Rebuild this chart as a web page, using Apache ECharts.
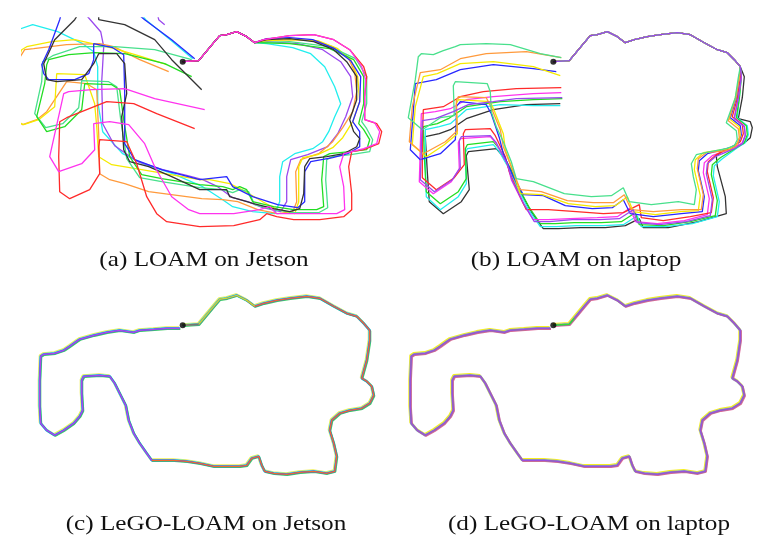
<!DOCTYPE html>
<html>
<head>
<meta charset="utf-8">
<script src="https://cdn.jsdelivr.net/npm/echarts@6.0.0/dist/echarts.min.js"></script>
<style>html,body{margin:0;background:#fff}#main{width:766px;height:541px}</style>
</head>
<body>
<div id="main"></div>
<script>
// trajectories, in map units relative to the start point (x right, y up)
var startPoint=[[0,0]];
var startLeg=[[0,0],[16,1],[21,7],[31,19],[37,26],[44,27],[54,30],[64,25],[72,19]];
var rightTop=[[81,22],[94,25],[107,27],[124,29],[137,27],[151,19],[164,12],[174,9],[181,2],[187,-5]];
var legoSouth=[[187,-15],[184,-35],[179,-53],[184,-56],[189,-61],[191,-70],[187,-78],[179,-83],[167,-85],[157,-88],[149,-95],[147,-105],[151,-118],[154,-131],[152,-146],[144,-148],[131,-146],[117,-147],[104,-149],[91,-148],[82,-146],[79,-140],[76,-131],[69,-133],[64,-140],[57,-141],[44,-141],[31,-141],[17,-138],[4,-136],[-9,-135],[-23,-135],[-31,-135]];
var legoWest=[[-31,-135],[-36,-128],[-43,-118],[-49,-108],[-54,-95],[-57,-80],[-63,-68],[-68,-58],[-73,-51],[-83,-50],[-99,-51],[-101,-55],[-101,-68],[-100,-85],[-103,-91],[-109,-98],[-119,-105],[-128,-110],[-136,-105],[-142,-98],[-143,-81],[-143,-55],[-142,-31],[-139,-29],[-128,-28],[-119,-25],[-113,-21],[-106,-16],[-103,-14],[-89,-10],[-76,-7],[-63,-5],[-49,-7],[-43,-5],[-29,-4],[-16,-3],[-3,-3]];

// (a) LOAM on Jetson, one array per run (after the start leg)
var redA=[[81,22],[107,26],[131,27],[151,22],[167,12],[181,-5],[184,-15],[182,-35],[182,-58],[194,-62],[199,-70],[196,-82],[181,-88],[169,-90],[166,-105],[169,-132],[169,-148],[161,-155],[137,-158],[111,-158],[94,-155],[84,-152],[77,-158],[51,-164],[17,-165],[-16,-160],[-26,-152],[-36,-135],[-46,-102],[-56,-80],[-83,-78],[-84,-85],[-83,-112],[-93,-128],[-113,-137],[-123,-130],[-124,-95],[-123,-60],[-116,-56],[-96,-48],[-76,-40],[-49,-42],[-26,-52],[12,-67]];
var magentaA=[[81,22],[107,26],[131,27],[151,22],[167,12],[179,-5],[183,-18],[182,-35],[182,-58],[192,-61],[197,-70],[194,-82],[181,-87],[161,-92],[157,-105],[161,-125],[162,-148],[154,-152],[123,-152],[94,-152],[87,-145],[77,-148],[51,-152],[17,-152],[6,-148],[-11,-135],[-28,-105],[-38,-82],[-54,-63],[-73,-60],[-89,-62],[-88,-88],[-101,-102],[-124,-110],[-133,-95],[-119,-32],[-114,-30],[-91,-28],[-58,-27],[-28,-37],[22,-48]];
var orangeA=[[84,21],[110,22],[130,21],[150,15],[165,5],[172,-10],[174,-30],[170,-50],[160,-66],[150,-80],[136,-92],[118,-98],[113,-110],[114,-140],[110,-150],[95,-152],[75,-148],[55,-140],[40,-138],[19,-137],[-34,-130],[-58,-122],[-73,-118],[-83,-112],[-84,-72],[-86,-28],[-96,-22],[-116,-20],[-136,-50],[-146,-58],[-160,-63],[-172,-55],[-172,-10],[-158,12],[-149,13],[-116,17],[-83,18],[-69,15],[-43,2],[-14,-10]];
var yellowA=[[84,21],[110,22],[135,21],[155,13],[168,2],[175,-15],[177,-40],[170,-60],[160,-76],[150,-86],[135,-93],[120,-96],[116,-105],[116,-140],[112,-152],[95,-148],[80,-140],[63,-130],[47,-122],[27,-118],[17,-118],[-41,-108],[-71,-103],[-84,-95],[-86,-65],[-88,-42],[-98,-13],[-126,-12],[-128,-45],[-144,-58],[-159,-63],[-170,-58],[-172,-15],[-161,12],[-156,15],[-131,20],[-108,22],[-68,13],[-41,5],[-16,-3]];
var greenA=[[71,17],[107,18],[147,13],[171,2],[181,-15],[181,-42],[176,-62],[181,-68],[187,-78],[184,-88],[167,-90],[147,-92],[141,-95],[139,-118],[141,-145],[134,-148],[111,-148],[91,-145],[70,-140],[64,-128],[57,-125],[50,-128],[40,-125],[17,-123],[-21,-117],[-41,-113],[-53,-95],[-59,-58],[-63,-28],[-71,-23],[-98,-22],[-101,-48],[-118,-65],[-136,-70],[-146,-55],[-138,-22],[-136,-3],[-134,2],[-114,7],[-88,9],[-58,8],[-18,-2],[9,-15]];
var seafoamA=[[71,18],[107,20],[147,15],[173,3],[184,-15],[184,-42],[179,-60],[184,-67],[190,-78],[187,-90],[168,-93],[150,-95],[144,-98],[143,-118],[145,-146],[136,-151],[111,-151],[91,-148],[72,-143],[66,-130],[57,-128],[50,-131],[40,-128],[17,-126],[-21,-120],[-43,-116],[-56,-97],[-62,-58],[-66,-25],[-74,-20],[-101,-19],[-104,-46],[-120,-62],[-137,-66],[-148,-52],[-141,-20],[-140,0],[-130,6],[-103,15],[-68,15],[-28,12],[9,2]];
var blueA=[[84,23],[107,24],[130,22],[152,13],[168,1],[178,-15],[177,-40],[170,-60],[177,-70],[177,-85],[165,-92],[150,-96],[128,-100],[122,-110],[122,-140],[115,-146],[95,-143],[70,-135],[50,-125],[44,-115],[17,-118],[-21,-108],[-48,-98],[-58,-82],[-58,-32],[-59,7],[-70,14],[-89,18],[-89,2],[-94,-12],[-108,-18],[-134,-18],[-139,-12],[-141,-3],[-134,12],[-123,42],[-118,60],[-60,60],[-38,42],[-11,22],[12,3]];
var blackA=[[84,22],[107,23],[131,20],[151,12],[164,0],[174,-15],[174,-38],[167,-58],[171,-70],[177,-77],[174,-85],[161,-92],[144,-95],[127,-97],[122,-105],[121,-132],[117,-147],[107,-150],[91,-147],[71,-142],[47,-135],[44,-128],[17,-128],[-11,-115],[-34,-105],[-53,-100],[-59,-88],[-61,-55],[-56,-32],[-58,-2],[-66,8],[-84,8],[-89,-2],[-101,-18],[-126,-20],[-136,-18],[-139,-2],[-128,22],[-108,42],[-98,58],[-84,58],[-84,42],[-58,37],[-28,22],[-11,2],[19,-28]];
var cyanA=[[84,18],[110,14],[128,8],[142,-5],[152,-25],[158,-42],[152,-55],[146,-70],[140,-80],[130,-87],[112,-92],[100,-100],[97,-115],[97,-140],[92,-152],[70,-150],[50,-145],[40,-138],[20,-125],[-10,-112],[-40,-102],[-60,-92],[-80,-70],[-85,-40],[-85,-5],[-89,10],[-100,18],[-125,30],[-150,37],[-165,32],[-170,70],[-60,70],[-37,42],[-10,20],[10,3]];
var purpleA=[[84,20],[115,18],[140,12],[158,0],[168,-15],[170,-35],[163,-55],[155,-72],[145,-85],[125,-93],[108,-98],[104,-115],[104,-140],[98,-150],[80,-146],[65,-140],[50,-136],[35,-125],[20,-118],[5,-114],[-20,-108],[-45,-100],[-68,-84],[-80,-62],[-81,-20],[-79,15],[-82,30],[-95,45],[-100,70],[-30,70],[-24,42],[-18,37]];

// (b) LOAM on laptop, one array per run (after start leg and right top)
var seafoamB=[[185,-16],[182,-36],[173,-61],[183,-69],[184,-78],[181,-84],[173,-87],[157,-90],[143,-93],[138,-102],[140,-115],[143,-128],[141,-143],[125,-140],[98,-143],[76,-140],[70,-126],[58,-134],[38,-135],[11,-132],[-20,-120],[-37,-117],[-42,-100],[-50,-80],[-57,-65],[-62,-50],[-63,-30],[-66,-22],[-98,-20],[-100,-24],[-99,-54],[-113,-56],[-131,-68],[-145,-56],[-143,-45],[-138,-18],[-135,5],[-132,8],[-120,7],[-110,11],[-98,15],[-93,17],[-67,18],[-43,17],[-13,8],[8,4]];
var orangeB=[[186,-15],[183,-35],[175,-59],[185,-67],[186,-76],[183,-84],[175,-89],[153,-91],[145,-97],[144,-107],[147,-120],[150,-133],[148,-148],[128,-148],[100,-150],[78,-148],[71,-133],[60,-141],[40,-141],[14,-139],[-12,-130],[-33,-128],[-40,-110],[-50,-85],[-53,-68],[-62,-46],[-67,-36],[-95,-35],[-97,-39],[-96,-69],[-108,-80],[-130,-92],[-144,-80],[-141,-45],[-133,-11],[-113,-8],[-93,3],[-67,8],[-27,10],[8,4]];
var yellowB=[[186,-16],[182,-36],[176,-57],[186,-65],[187,-74],[184,-82],[176,-87],[150,-91],[142,-98],[141,-108],[144,-121],[147,-134],[145,-149],[127,-150],[102,-153],[80,-150],[74,-135],[62,-144],[42,-145],[15,-142],[-11,-133],[-33,-132],[-39,-113],[-48,-88],[-50,-72],[-59,-49],[-63,-40],[-95,-38],[-97,-42],[-96,-72],[-109,-83],[-127,-95],[-141,-83],[-138,-45],[-130,-15],[-116,-12],[-93,-2],[-60,0],[-20,-5],[7,-14]];
var blueB=[[186,-15],[183,-36],[177,-56],[187,-64],[188,-73],[185,-81],[177,-86],[154,-92],[146,-99],[145,-109],[148,-122],[151,-135],[149,-150],[128,-152],[100,-155],[77,-152],[70,-138],[59,-146],[39,-147],[12,-144],[-10,-134],[-30,-133],[-40,-115],[-50,-92],[-54,-76],[-62,-52],[-67,-43],[-93,-40],[-97,-45],[-97,-62],[-98,-78],[-113,-92],[-133,-98],[-143,-88],[-140,-50],[-138,-22],[-117,-18],[-93,-8],[-60,-3],[-20,-7],[3,-10]];
var redB=[[187,-16],[184,-37],[179,-55],[189,-63],[190,-72],[187,-80],[179,-85],[163,-93],[155,-100],[154,-110],[157,-123],[160,-136],[158,-151],[137,-155],[110,-159],[88,-156],[86,-143],[70,-151],[50,-152],[23,-150],[-5,-148],[-27,-148],[-34,-133],[-44,-110],[-48,-95],[-58,-74],[-63,-67],[-88,-68],[-90,-72],[-89,-103],[-99,-116],[-117,-128],[-131,-116],[-131,-80],[-130,-48],[-110,-45],[-93,-35],[-70,-30],[-37,-27],[8,-26]];
var magentaB=[[188,-16],[185,-37],[181,-56],[191,-64],[192,-73],[189,-81],[181,-86],[159,-94],[151,-101],[150,-111],[153,-124],[156,-137],[154,-153],[131,-159],[104,-162],[82,-160],[77,-146],[64,-155],[44,-156],[17,-157],[-5,-158],[-20,-158],[-30,-142],[-42,-118],[-46,-102],[-57,-82],[-63,-75],[-93,-77],[-95,-81],[-94,-107],[-102,-120],[-120,-132],[-134,-120],[-133,-85],[-132,-52],[-118,-50],[-103,-47],[-87,-38],[-60,-35],[-20,-32],[8,-31]];
var purpleB=[[188,-15],[185,-36],[181,-57],[191,-65],[192,-74],[189,-82],[181,-87],[162,-95],[154,-102],[153,-112],[156,-125],[159,-138],[157,-154],[133,-160],[106,-163],[84,-161],[80,-148],[66,-157],[46,-158],[19,-158],[-4,-160],[-19,-160],[-29,-143],[-41,-119],[-46,-102],[-57,-81],[-63,-74],[-92,-75],[-94,-79],[-93,-106],[-101,-118],[-119,-130],[-133,-118],[-132,-88],[-131,-59],[-118,-57],[-100,-50],[-85,-43],[-60,-40],[-37,-37],[9,-36]];
var greenB=[[188,-16],[186,-37],[183,-56],[193,-64],[194,-73],[191,-81],[183,-86],[167,-96],[159,-103],[158,-113],[161,-126],[164,-139],[162,-154],[137,-160],[110,-164],[86,-163],[82,-151],[68,-160],[48,-161],[21,-161],[2,-162],[-13,-162],[-24,-146],[-36,-123],[-42,-108],[-54,-87],[-60,-80],[-86,-83],[-88,-87],[-87,-117],[-95,-130],[-113,-142],[-127,-130],[-129,-95],[-130,-65],[-116,-62],[-105,-57],[-87,-45],[-53,-40],[-20,-38],[9,-37]];
var cyanB=[[188,-15],[186,-36],[184,-56],[194,-64],[195,-73],[192,-81],[184,-86],[169,-97],[161,-104],[160,-114],[163,-127],[166,-140],[164,-155],[139,-162],[112,-165],[88,-165],[84,-154],[70,-163],[50,-164],[23,-164],[3,-165],[-13,-165],[-24,-149],[-36,-126],[-42,-111],[-54,-90],[-60,-83],[-86,-87],[-88,-91],[-87,-122],[-95,-135],[-113,-148],[-127,-135],[-128,-100],[-128,-68],[-114,-65],[-103,-62],[-87,-48],[-53,-43],[-20,-44],[7,-44]];
var blackB=[[191,-15],[189,-36],[185,-57],[197,-60],[199,-66],[197,-76],[190,-82],[170,-89],[163,-94],[164,-105],[168,-120],[172,-135],[173,-152],[145,-160],[115,-166],[90,-166],[86,-157],[72,-164],[52,-166],[27,-166],[5,-167],[-10,-167],[-21,-152],[-33,-130],[-39,-115],[-51,-94],[-57,-87],[-85,-90],[-87,-94],[-84,-128],[-92,-140],[-110,-152],[-124,-140],[-126,-110],[-128,-75],[-114,-72],[-103,-68],[-87,-57],[-60,-48],[-27,-43],[7,-42]];

var captions=['(a) LOAM on Jetson','(b) LOAM on laptop','(c) LeGO-LOAM on Jetson','(d) LeGO-LOAM on laptop'];

var legoPath=startLeg.concat(rightTop,legoSouth,legoWest);
var legoRight=startLeg.slice(7).concat(rightTop,legoSouth);

var panels=[
    {left:22,top:18,x:[-160.7,203.3],y:[-169.3,43.7]},
    {left:393,top:18,x:[-160.3,203.7],y:[-169.3,43.7]},
    {left:22,top:282,x:[-160.7,203.3],y:[-169.7,43.3]},
    {left:393,top:282,x:[-160.3,203.7],y:[-169.7,43.3]}
];

function ln(g,color,data,w,extra){
    var s={
        type:'line',
        xAxisIndex:g,
        yAxisIndex:g,
        data:data,
        showSymbol:false,
        symbol:'none',
        silent:true,
        clip:true,
        lineStyle:{color:color,width:w||1.3},
        itemStyle:{color:color}
    };
    if(extra){
        for(var k in extra){s.lineStyle[k]=extra[k];}
    }
    return s;
}

var series=[];
// (a)
series.push(ln(0,'#22eeee',startLeg.concat(cyanA)));
series.push(ln(0,'#9a48ee',startLeg.concat(purpleA)));
series.push(ln(0,'#ff9a3c',startLeg.concat(orangeA)));
series.push(ln(0,'#f5ea00',startLeg.concat(yellowA)));
series.push(ln(0,'#48e08c',startLeg.concat(seafoamA)));
series.push(ln(0,'#22dd22',startLeg.concat(greenA)));
series.push(ln(0,'#2828ff',startLeg.concat(blueA)));
series.push(ln(0,'#333333',startLeg.concat(blackA)));
series.push(ln(0,'#ff2a2a',startLeg.concat(redA)));
series.push(ln(0,'#ff33ee',startLeg.concat(magentaA)));
// (b)
var bRuns=[[blackB,'#333333'],[cyanB,'#22eeee'],[greenB,'#22dd22'],[magentaB,'#ff33ee'],[redB,'#ff2a2a'],[blueB,'#2828ff'],[yellowB,'#f5ea00'],[orangeB,'#ff9a3c'],[seafoamB,'#48e08c'],[purpleB,'#9a48ee']];
bRuns.forEach(function(r){
    series.push(ln(1,r[1],startLeg.concat(rightTop,r[0])));
});
// (c)
series.push(ln(2,'#33ddff',legoPath,2.6,{shadowColor:'#eeee55',shadowOffsetX:-0.7,shadowOffsetY:-0.8,shadowBlur:0}));
series.push(ln(2,'#3a55ee',legoPath,1.8,{shadowColor:'#44cc66',shadowOffsetX:0.7,shadowOffsetY:0.7,shadowBlur:0}));
series.push(ln(2,'#f06a30',legoRight,1.3));
series.push(ln(2,'#b048e8',legoWest,1.3));
series.push(ln(2,'#c8dc30',startLeg,1.4));
series.push(ln(2,'#777777',startLeg.slice(0,2),1.4));
// (d)
series.push(ln(3,'#88aaee',legoPath,2.6,{shadowColor:'#f5ee22',shadowOffsetX:-0.7,shadowOffsetY:-0.9,shadowBlur:0}));
series.push(ln(3,'#888888',legoPath,1.8,{shadowColor:'#dd6699',shadowOffsetX:0.7,shadowOffsetY:0.7,shadowBlur:0}));
series.push(ln(3,'#9a50dd',legoPath,1.3));
series.push(ln(3,'#33dd33',startLeg.slice(0,3),1.4));

for(var g=0;g<4;g++){
    series.push({
        type:'scatter',
        xAxisIndex:g,
        yAxisIndex:g,
        data:startPoint,
        symbolSize:6,
        silent:true,
        itemStyle:{color:'#000'},
        z:10
    });
}

// caption anchors (centre x, middle y)
var captionPos=[[204,260],[576,260],[206,524],[589,524]];

var myChart=echarts.init(document.getElementById('main'),null,{renderer:'canvas'});
var option={
    backgroundColor:'#fff',
    animation:false,
    graphic:captions.map(function(c,i){
        return {
            type:'text',
            x:captionPos[i][0],
            y:captionPos[i][1],
            scaleX:1.2,
            silent:true,
            style:{
                text:c,
                font:'21px "Liberation Serif"',
                fill:'#111',
                textAlign:'center',
                textVerticalAlign:'middle'
            }
        };
    }),
    grid:panels.map(function(p){
        return {left:p.left,top:p.top,width:364,height:p.y[1]-p.y[0]};
    }),
    xAxis:panels.map(function(p,i){
        return {type:'value',gridIndex:i,min:p.x[0],max:p.x[1],show:false};
    }),
    yAxis:panels.map(function(p,i){
        return {type:'value',gridIndex:i,min:p.y[0],max:p.y[1],show:false};
    }),
    series:series
};
myChart.setOption(option);
</script>
</body>
</html>
